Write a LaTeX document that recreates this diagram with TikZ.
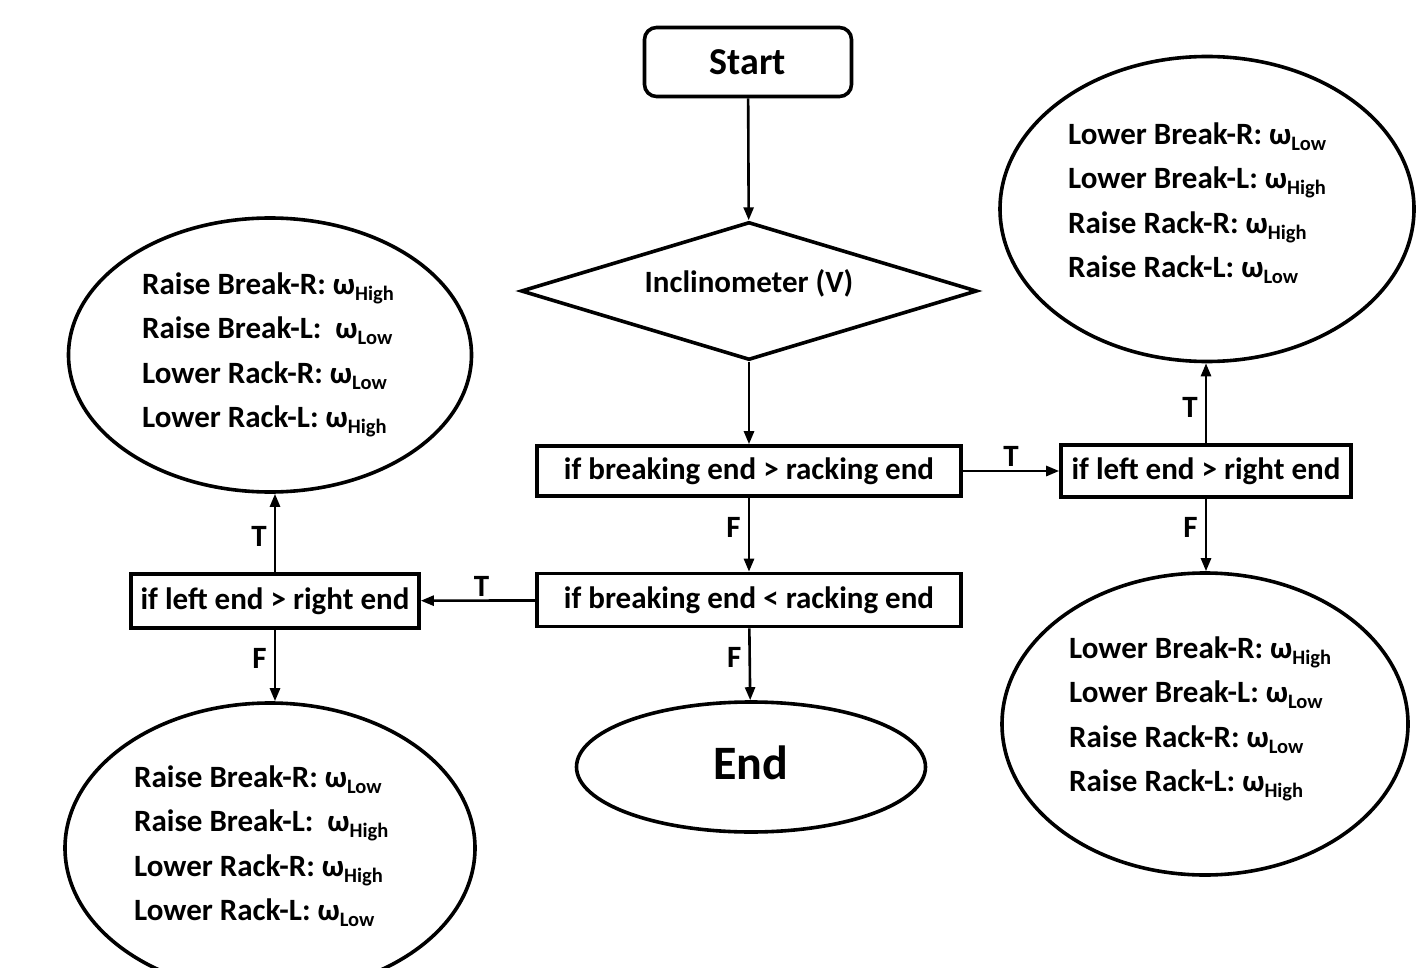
\documentclass[tikz,border=0pt]{standalone}
\usepackage{fontspec}
\setmainfont{Carlito}
\usetikzlibrary{shapes.geometric,arrows.meta}
\newcommand\lo[1]{\raisebox{-6pt}{\fontsize{20.5}{20.5}\selectfont #1}}
\begin{document}
\begin{tikzpicture}[x=1pt,y=-1pt,
  txt/.style={font=\bfseries\fontsize{31}{37}\selectfont},
  boxnode/.style={txt,draw,line width=3.6pt,inner sep=0pt},
  ovalnode/.style={draw,ellipse,line width=3.6pt,inner sep=0pt},
  ovaltext/.style={anchor=west,inner sep=0pt,align=left,
     font=\bfseries\fontsize{31}{44.5}\selectfont},
  arr/.style={line width=2.6pt,-{Triangle[length=13pt,width=10pt]}},
  lbl/.style={txt,inner sep=3pt},
  lbll/.style={lbl,left,xshift=-4pt}]
\clip (0,0) rectangle (1419,968);
\fill[white] (0,0) rectangle (1419,968);

\node[boxnode,rounded corners=12pt,minimum width=207pt,minimum height=69pt,
      font=\bfseries\fontsize{38}{44}\selectfont] (start) at (748,62) {Start};
\node[boxnode,diamond,aspect=3.3,minimum width=456pt,minimum height=138pt] (dia) at (749,291)
  {\raisebox{8pt}[\height][\depth]{Inclinometer (V)}};
\node[boxnode,minimum width=424pt,minimum height=50pt] (b1) at (749,471) {if breaking end > racking end};
\node[boxnode,minimum width=290pt,minimum height=52pt] (b2) at (1206,471) {if left end > right end};
\node[boxnode,minimum width=424pt,minimum height=53pt] (b3) at (749,600) {if breaking end < racking end};
\node[boxnode,minimum width=288pt,minimum height=54pt] (b4) at (275,601) {if left end > right end};

\node[ovalnode,minimum width=414pt,minimum height=305pt] (tr) at (1207,209) {};
\node[ovaltext] (trt) at (1068,203)
  {Lower Break-R: ω\lo{Low}\\Lower Break-L: ω\lo{High}\\Raise Rack-R: ω\lo{High}\\Raise Rack-L: ω\lo{Low}};
\node[ovalnode,minimum width=406pt,minimum height=302pt] (br) at (1205,724) {};
\node[ovaltext] (brt) at (1069,719)
  {Lower Break-R: ω\lo{High}\\Lower Break-L: ω\lo{Low}\\Raise Rack-R: ω\lo{Low}\\Raise Rack-L: ω\lo{High}};
\node[ovalnode,minimum width=403pt,minimum height=274pt] (tl) at (270,355) {};
\node[ovaltext] (tlt) at (142,355)
  {Raise Break-R: ω\lo{High}\\Raise Break-L:~~ω\lo{Low}\\Lower Rack-R: ω\lo{Low}\\Lower Rack-L: ω\lo{High}};
\node[ovalnode,minimum width=410pt,minimum height=290pt] (bl) at (270,848) {};
\node[ovaltext] (blt) at (134,846)
  {Raise Break-R: ω\lo{Low}\\Raise Break-L:~~ω\lo{High}\\Lower Rack-R: ω\lo{High}\\Lower Rack-L: ω\lo{Low}};
\node[ovalnode,minimum width=349pt,minimum height=130pt,
      font=\bfseries\fontsize{48}{54}\selectfont] (end) at (751,767)
  {\raisebox{4pt}[\height][\depth]{End}};

\draw[arr] (start) -- (dia);
\draw[arr] (dia) -- (b1);
\draw[arr] (b1) -- node[lbl,above](t1){T} (b2);
\draw[arr] (b2.north) -- node[lbll,pos=0.45](t2){T} (b2.north |- tr.south);
\draw[arr] (b2.south) -- node[lbll,pos=0.4](f1){F} (b2.south |- br.north);
\draw[arr] (b1) -- node[lbll,pos=0.4](f2){F} (b3);
\draw[arr] (b3) -- node[lbl,above,pos=0.47](t3){T} (b4);
\draw[arr] (b4.north) -- node[lbll,pos=0.45](t4){T} (b4.north |- tl.south);
\draw[arr] (b4.south) -- node[lbll,pos=0.4](f3){F} (b4.south |- bl.north);
\draw[arr] (b3) -- node[lbll,pos=0.4](f4){F} (end);
\end{tikzpicture}
\end{document}
